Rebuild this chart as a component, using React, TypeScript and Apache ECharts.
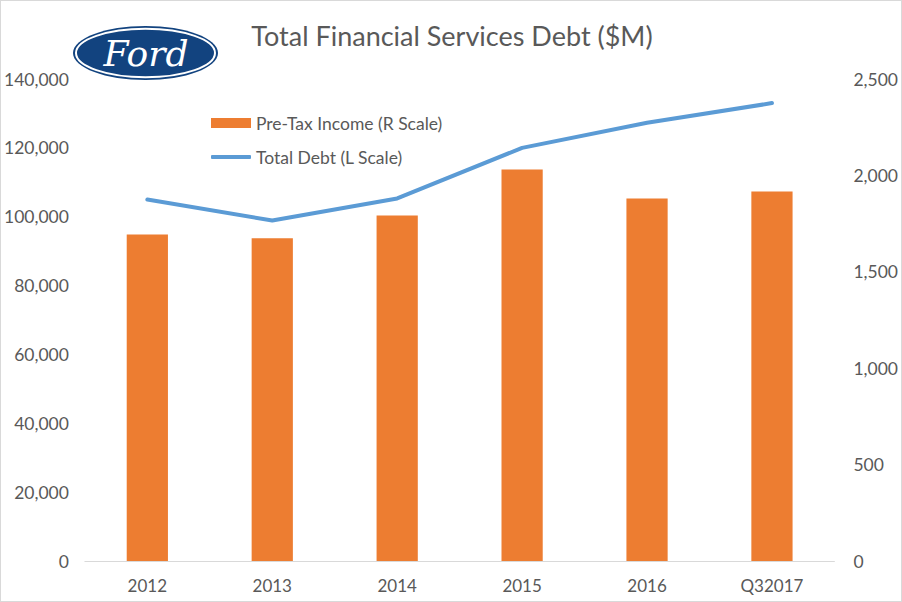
import React, { useEffect, useRef } from "react";
import * as echarts from "echarts";

const categories = ["2012", "2013", "2014", "2015", "2016", "Q32017"];
const preTaxIncome = [1694, 1674, 1792, 2030, 1880, 1916];
const totalDebt = [105000, 98900, 105300, 120000, 127300, 133000];

const TEXT = "#595959";
const FONT = "Lato, 'Liberation Sans', sans-serif";
const BAR_NAME = "Pre-Tax Income (R Scale)";
const LINE_NAME = "Total Debt (L Scale)";

export default function App() {
  const ref = useRef<HTMLDivElement>(null);
  useEffect(() => {
    document.body.style.margin = "0";
    const chart = echarts.init(ref.current!, null, { renderer: "svg" });
    const legendText = { color: TEXT, fontSize: 17.5, lineHeight: 20, fontFamily: FONT };
    chart.setOption({
      animation: false,
      backgroundColor: "#ffffff",
      textStyle: { fontFamily: FONT },
      title: {
        text: "Total Financial Services Debt ($M)",
        left: 446,
        textAlign: "center",
        top: 16,
        textStyle: { color: TEXT, fontSize: 27, fontWeight: "normal", fontFamily: FONT },
      },
      graphic: [
        {
          type: "group",
          children: [
            { type: "ellipse", shape: { cx: 144.5, cy: 52, rx: 72.5, ry: 27 }, style: { fill: "#12437f" } },
            { type: "ellipse", shape: { cx: 144.5, cy: 52, rx: 69.5, ry: 24.2 }, style: { fill: "none", stroke: "#ffffff", lineWidth: 2 } },
            {
              type: "text",
              x: 145,
              y: 52,
              style: {
                text: "Ford",
                fill: "#ffffff",
                font: "italic 36px 'DejaVu Serif', serif",
                align: "center",
                verticalAlign: "middle",
              },
            },
          ],
        },
      ],
      legend: [
        {
          orient: "vertical",
          left: 205,
          top: 107,
          itemWidth: 40,
          itemHeight: 10,
          textStyle: legendText,
          data: [{ name: BAR_NAME, icon: "rect" }],
        },
        {
          orient: "vertical",
          left: 205,
          top: 141,
          itemWidth: 40,
          itemHeight: 4,
          textStyle: legendText,
          data: [{ name: LINE_NAME, icon: "roundRect" }],
        },
      ],
      grid: { left: 83, right: 66, top: 78, bottom: 40 },
      xAxis: {
        type: "category",
        data: categories,
        axisLine: { lineStyle: { color: "#d9d9d9", width: 1 } },
        axisTick: { show: false },
        axisLabel: { color: TEXT, fontSize: 17, margin: 16, fontFamily: FONT },
      },
      yAxis: [
        {
          type: "value",
          min: 0,
          max: 140000,
          interval: 20000,
          position: "left",
          splitLine: { show: false },
          axisLine: { show: false },
          axisTick: { show: false },
          axisLabel: {
            color: TEXT,
            fontSize: 17.5,
            margin: 16,
            fontFamily: FONT,
            formatter: (v: number) => v.toLocaleString("en-US"),
          },
        },
        {
          type: "value",
          min: 0,
          max: 2500,
          interval: 500,
          position: "right",
          splitLine: { show: false },
          axisLine: { show: false },
          axisTick: { show: false },
          axisLabel: {
            color: TEXT,
            fontSize: 17.5,
            margin: 19,
            fontFamily: FONT,
            formatter: (v: number) => v.toLocaleString("en-US"),
          },
        },
      ],
      series: [
        {
          name: BAR_NAME,
          type: "bar",
          yAxisIndex: 1,
          data: preTaxIncome,
          barWidth: "33%",
          itemStyle: { color: "#ED7D31" },
        },
        {
          name: LINE_NAME,
          type: "line",
          yAxisIndex: 0,
          data: totalDebt,
          symbol: "none",
          lineStyle: { color: "#5B9BD5", width: 4, cap: "round", join: "round" },
          itemStyle: { color: "#5B9BD5" },
        },
      ],
    });
    return () => chart.dispose();
  }, []);
  return (
    <div
      ref={ref}
      style={{ width: 902, height: 602, boxSizing: "border-box", border: "1px solid #d9d9d9" }}
    />
  );
}
